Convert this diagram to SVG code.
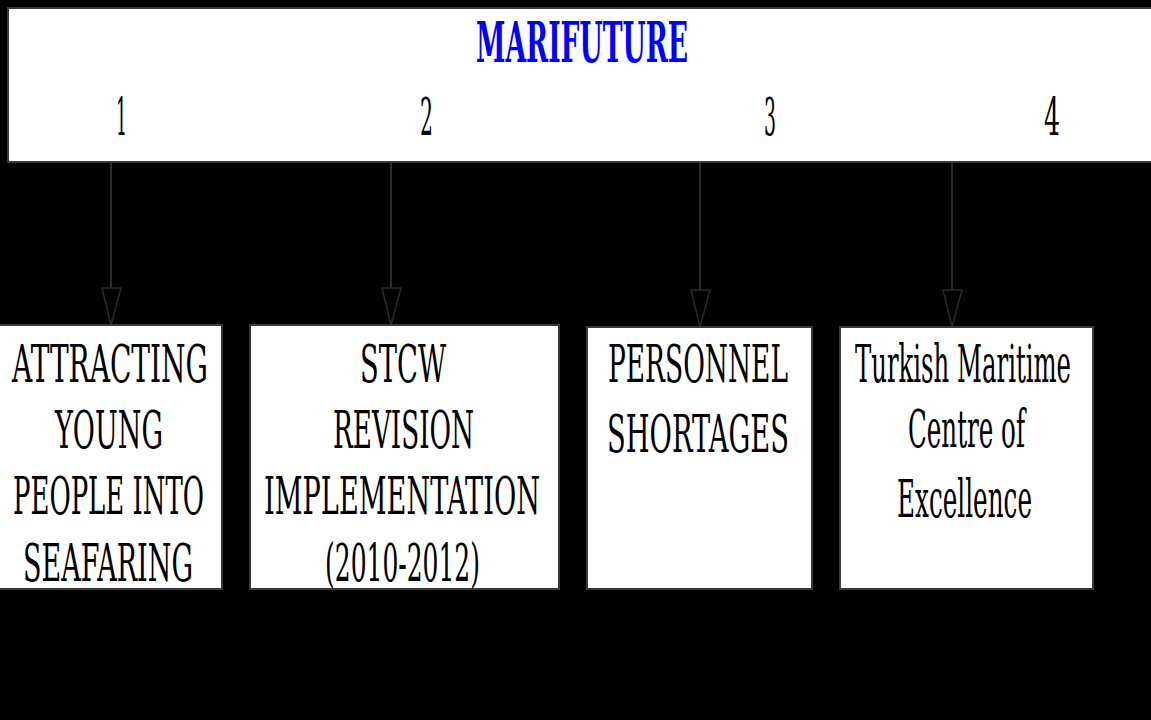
<svg xmlns="http://www.w3.org/2000/svg" width="1151" height="720" viewBox="0 0 1151 720">
<style>
.box{fill:#fff;stroke:#3a3a3a;stroke-width:2}
.t{font-family:"DejaVu Serif","Liberation Serif",serif;font-size:52px;fill:#000}
.n{font-family:"DejaVu Serif","Liberation Serif",serif;font-size:52px;fill:#000}
.title{font-family:"DejaVu Serif","Liberation Serif",serif;font-size:56px;font-weight:bold;fill:#0000ff}
.c{stroke:#2a2a2a;stroke-width:2;fill:none}
.ah{stroke:#2a2a2a;stroke-width:1.5;fill:#000}
</style>
<rect x="0" y="0" width="1151" height="720" fill="#000"/>
<g id="header">
<rect class="box" x="8" y="8" width="1150" height="154"/>
<text class="title" x="476" y="62" textLength="212" lengthAdjust="spacingAndGlyphs">MARIFUTURE</text>
<text class="n" x="116" y="135" textLength="11" lengthAdjust="spacingAndGlyphs">1</text>
<text class="n" x="420" y="135" textLength="13" lengthAdjust="spacingAndGlyphs">2</text>
<text class="n" x="764" y="135" textLength="12" lengthAdjust="spacingAndGlyphs">3</text>
<text class="n" x="1044" y="135" textLength="16" lengthAdjust="spacingAndGlyphs">4</text>
</g>
<g id="connectors">
<line class="c" x1="111" y1="163" x2="111" y2="324"/>
<polygon class="ah" points="102,288 121,288 111,325"/>
<line class="c" x1="391" y1="163" x2="391" y2="324"/>
<polygon class="ah" points="382,288 401,288 391,325"/>
<line class="c" x1="700" y1="163" x2="700" y2="326"/>
<polygon class="ah" points="691,290 710,290 700,327"/>
<line class="c" x1="952" y1="163" x2="952" y2="326"/>
<polygon class="ah" points="943,290 962,290 952,327"/>
</g>
<g id="node1">
<rect class="box" x="-2" y="325" width="224" height="264"/>
<text class="t" x="12" y="382" textLength="196" lengthAdjust="spacingAndGlyphs">ATTRACTING</text>
<text class="t" x="55" y="448" textLength="108" lengthAdjust="spacingAndGlyphs">YOUNG</text>
<text class="t" x="13" y="514" textLength="191" lengthAdjust="spacingAndGlyphs">PEOPLE INTO</text>
<text class="t" x="23" y="581" textLength="170" lengthAdjust="spacingAndGlyphs">SEAFARING</text>
</g>
<g id="node2">
<rect class="box" x="250" y="325" width="309" height="264"/>
<text class="t" x="360" y="382" textLength="86" lengthAdjust="spacingAndGlyphs">STCW</text>
<text class="t" x="333" y="448" textLength="141" lengthAdjust="spacingAndGlyphs">REVISION</text>
<text class="t" x="264" y="514" textLength="276" lengthAdjust="spacingAndGlyphs">IMPLEMENTATION</text>
<text class="t" x="325" y="581" textLength="155" lengthAdjust="spacingAndGlyphs">(2010-2012)</text>
</g>
<g id="node3">
<rect class="box" x="587" y="327" width="225" height="262"/>
<text class="t" x="608" y="382" textLength="180" lengthAdjust="spacingAndGlyphs">PERSONNEL</text>
<text class="t" x="607" y="452" textLength="182" lengthAdjust="spacingAndGlyphs">SHORTAGES</text>
</g>
<g id="node4">
<rect class="box" x="840" y="327" width="253" height="262"/>
<text class="t" x="855" y="382" textLength="216" lengthAdjust="spacingAndGlyphs">Turkish Maritime</text>
<text class="t" x="908" y="447" textLength="117" lengthAdjust="spacingAndGlyphs">Centre of</text>
<text class="t" x="897" y="517" textLength="135" lengthAdjust="spacingAndGlyphs">Excellence</text>
</g>
</svg>
